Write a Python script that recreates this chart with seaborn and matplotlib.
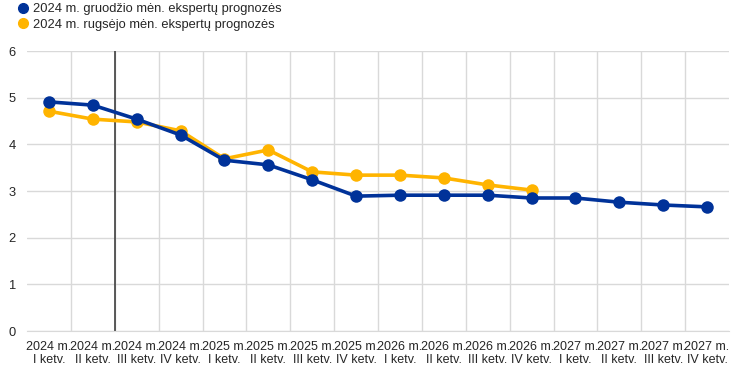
import matplotlib
matplotlib.use("Agg")
import matplotlib.pyplot as plt
import seaborn as sns
import pandas as pd
import numpy as np

# quarters on the x axis
years = ["2024", "2024", "2024", "2024", "2025", "2025", "2025", "2025",
         "2026", "2026", "2026", "2026", "2027", "2027", "2027", "2027"]
quarters = ["I", "II", "III", "IV"] * 4
labels = [f"{y} m.\n{q} ketv." for y, q in zip(years, quarters)]

# forecasts
dec_2024 = [4.91, 4.84, 4.54, 4.20, 3.66, 3.56, 3.24, 2.89,
            2.91, 2.91, 2.91, 2.85, 2.85, 2.76, 2.70, 2.66]
sep_2024 = [4.71, 4.54, 4.48, 4.29, 3.69, 3.88, 3.41, 3.34,
            3.34, 3.28, 3.13, 3.02]

name_dec = "2024 m. gruodžio mėn. ekspertų prognozės"
name_sep = "2024 m. rugsėjo mėn. ekspertų prognozės"

df = pd.concat([
    pd.DataFrame({"x": range(len(sep_2024)), "val": sep_2024, "series": name_sep}),
    pd.DataFrame({"x": range(len(dec_2024)), "val": dec_2024, "series": name_dec}),
])

sns.set_style("white")
plt.rcParams["font.family"] = ["Liberation Sans", "DejaVu Sans"]

fig, ax = plt.subplots(figsize=(7.41, 3.71), dpi=100)
fig.subplots_adjust(left=27/741, right=729/741, bottom=40/371, top=320/371)

colors = {name_sep: "#FFB400", name_dec: "#003299"}
sns.lineplot(data=df, x="x", y="val", hue="series", palette=colors,
             hue_order=[name_sep, name_dec], marker="o", markersize=9,
             markeredgewidth=0, linewidth=2.6, ax=ax, legend=False)

ax.set_xlim(-0.5, 15.5)
ax.set_ylim(0, 6)
ax.set_yticks(range(7))
ax.set_xticks(range(16))
ax.set_xticklabels(labels, fontsize=9, linespacing=1.1)
ax.set_xticks(np.arange(0.5, 15.5, 1), minor=True)
ax.tick_params(axis="y", length=0, labelsize=9.3, pad=8)
ax.tick_params(axis="x", which="both", length=0, pad=7)
ax.grid(axis="y", color="#d9d9d9", linewidth=1)
ax.grid(axis="x", which="minor", color="#d9d9d9", linewidth=1)
ax.set_axisbelow(True)
for s in ["top", "right", "left"]:
    ax.spines[s].set_visible(False)
ax.spines["bottom"].set_color("#d9d9d9")
ax.set_xlabel("")
ax.set_ylabel("")

# marker line between 2024 II and III quarter
ax.axvline(1.5, color="#404040", linewidth=1.2, zorder=1)

# legend at top left
handles = [plt.Line2D([], [], marker="o", linestyle="", color=colors[name_dec], markersize=7),
           plt.Line2D([], [], marker="o", linestyle="", color=colors[name_sep], markersize=7)]
fig.legend(handles, [name_dec, name_sep], loc="upper left", bbox_to_anchor=(0.012, 1.012),
           frameon=False, fontsize=9.3, handletextpad=0.3, labelspacing=0.25,
           handlelength=1.0, borderaxespad=0.2)

plt.savefig("out.png", dpi=100)
